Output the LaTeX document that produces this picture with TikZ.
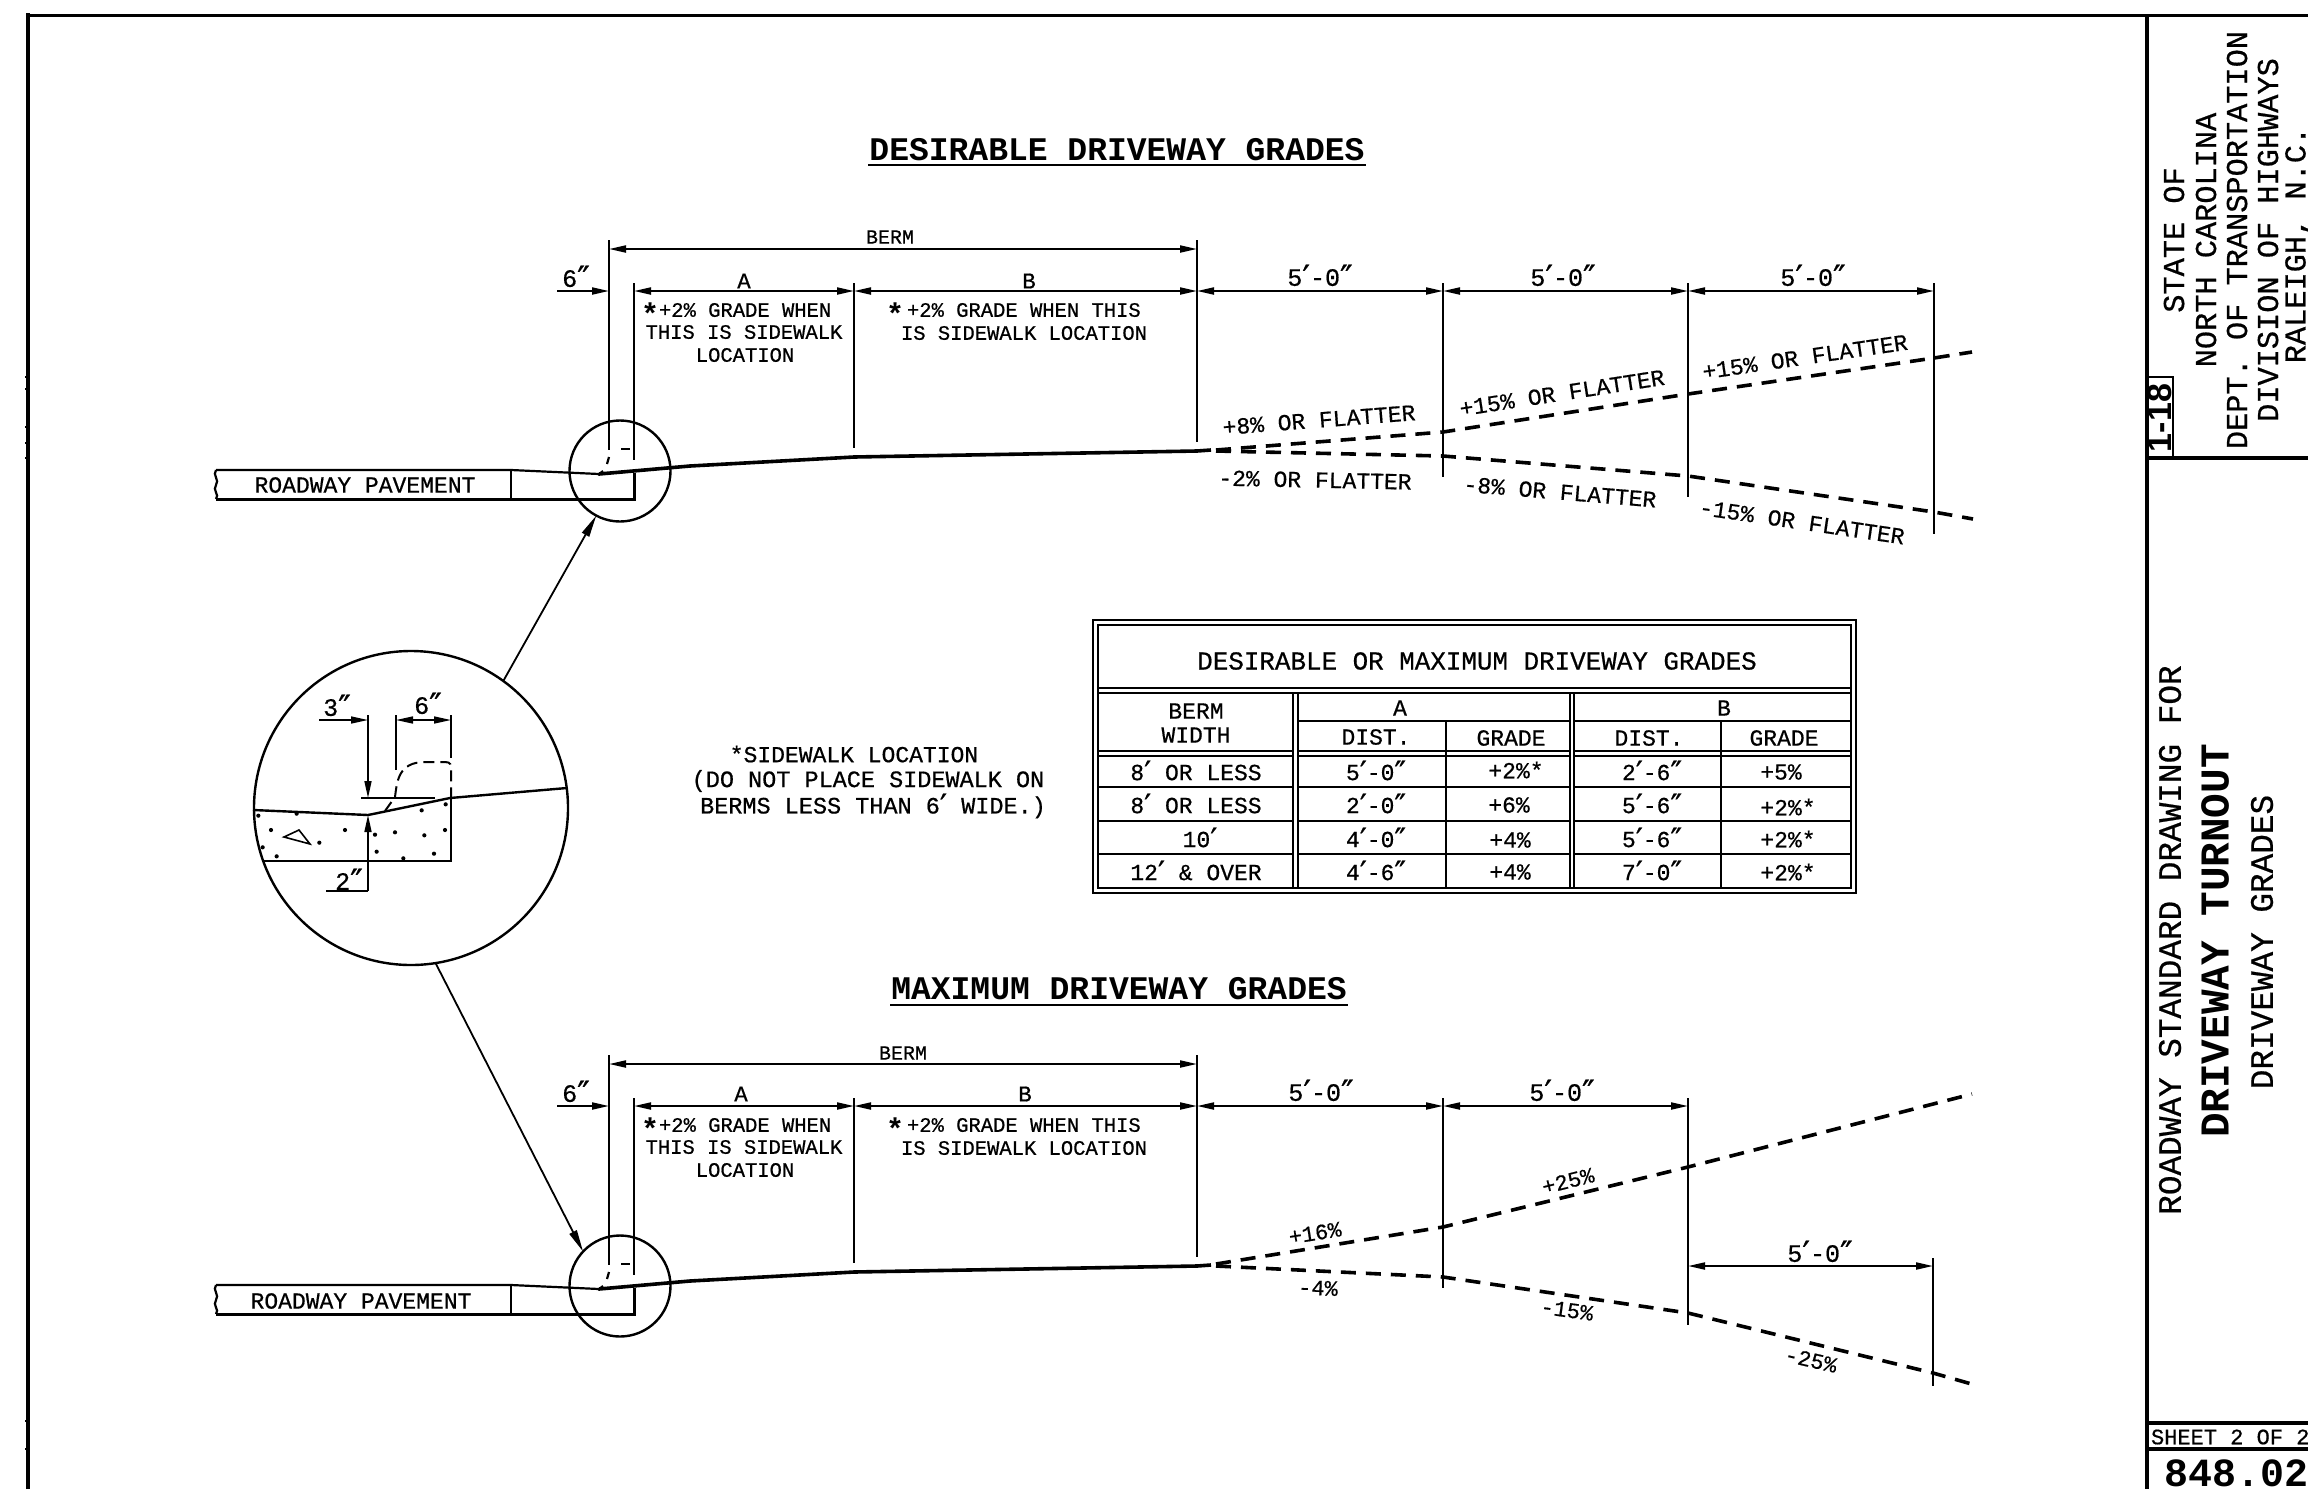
\documentclass[tikz,border=0pt]{standalone}
\usepackage{graphicx}
\usepackage{fontspec}
\setmainfont{Liberation Mono}[UprightFeatures={FakeBold=0.6}]
\newfontfamily\prf{DejaVu Sans}[FakeBold=0.6]
\newfontfamily\hvb{Liberation Sans}[BoldFont={Liberation Sans Bold}]
\usetikzlibrary{arrows.meta}
\newcommand\p{\raisebox{-.14em}{\scalebox{1.35}{\prf\symbol{"2032}}}}
\newcommand\pp{\raisebox{-.14em}{\scalebox{1.35}{\prf\symbol{"2033}}}}
\tikzset{
  txt/.style={inner sep=0pt,outer sep=0pt,font=\fontsize{#1}{#1}\selectfont},
  btxt/.style={inner sep=0pt,outer sep=0pt,font=\fontsize{#1}{#1}\selectfont\bfseries},
  thinln/.style={line width=1.5pt,draw=black},
  medln/.style={line width=2.2pt,draw=black},
  heavyln/.style={line width=3.6pt,draw=black},
  gradedash/.style={line width=3.6pt,draw=black,dash pattern=on 15pt off 10pt},
  dimarrow/.style={line width=2pt,{Triangle[length=17pt,width=7pt]}-{Triangle[length=17pt,width=7pt]}},
  endarrow/.style={line width=2pt,-{Triangle[length=17pt,width=7pt]}},
  leader/.style={line width=1.8pt,-{Triangle[length=22pt,width=8pt]}},
  zoomcircle/.style={circle,draw=black,line width=2.4pt,inner sep=0pt,outer sep=0pt}
}
% shared section: everything common to the two profiles, relative to the upper one
\newcommand\profile{%
  \draw[thinln] (609,240)--(609,450);
  \draw[thinln] (634,283)--(634,460);
  \draw[thinln] (854,283)--(854,448);
  \draw[thinln] (1197,240)--(1197,442);
  \draw[dimarrow] (609,249)--(1197,249);
  \draw[endarrow] (557,291)--(609,291);
  \draw[dimarrow] (634,291)--(854,291);
  \draw[dimarrow] (854,291)--(1197,291);
  \node[txt=25] at (576,278) {6\pp};
  % pavement
  \draw[medln] (216,470)--(511,470)--(599,474);
  \draw[heavyln,line join=round] (599,474)--(690,466)--(854,457)--(1197,451)--(1211,450);
  \draw[medln] (216,470) .. controls (212,475) and (220,480) .. (216,485) .. controls (212,490) and (220,495) .. (216,499);
  \draw[line width=3pt] (216,499)--(634,499)--(634,473);
  \draw[thinln] (511,470)--(511,499);
  % curb hints
  \draw[medln] (609,457)--(607,464);
  \draw[line width=2.4pt] (621,449)--(630,449);
  \draw[line width=2.4pt] (634,449)--(634,460);
  \draw[medln] (598,475)--(603,471);
  % notes
  \node[btxt=30] at (650,314) {*};
  \node[txt=20.5,anchor=west] at (659,310) {+2\% GRADE WHEN};
  \node[txt=20.5] at (744,332) {THIS IS SIDEWALK};
  \node[txt=20.5] at (745,355) {LOCATION};
  \node[btxt=30] at (895,314) {*};
  \node[txt=20.5,anchor=west] at (907,310) {+2\% GRADE WHEN THIS};
  \node[txt=20.5] at (1024,333) {IS SIDEWALK LOCATION};
}
\begin{document}
\begin{tikzpicture}[x=1pt,y=-1pt]
\useasboundingbox[fill=white] (0,0) rectangle (2308,1489);

% sheet frame
\draw[line width=4.5pt] (28,1489)--(28,13);
\draw[line width=3pt] (26,15)--(2308,15);
\foreach \ty in {377,389,427,443,458,1421,1449} \draw[line width=2pt] (25,\ty)--(27,\ty);
\draw[line width=4.5pt] (2147,15)--(2147,1489);
\draw[line width=4pt] (2147,458)--(2308,458);
\draw[line width=4pt] (2147,1423)--(2308,1423);
\draw[line width=4pt] (2147,1449)--(2308,1449);
\draw[line width=2pt] (2147,377)--(2173,377)--(2173,458);

% title block
\node[btxt=34,rotate=90,font=\hvb\bfseries\fontsize{34}{34}\selectfont] (sheetref) at (2160,418) {1-18};
\node[txt=30.3,rotate=90] (st1) at (2174,240) {STATE OF};
\node[txt=30.3,rotate=90] (st2) at (2206,240) {NORTH CAROLINA};
\node[txt=30.3,rotate=90] (st3) at (2237,240) {DEPT. OF TRANSPORTATION};
\node[txt=30.3,rotate=90] (st4) at (2268,240) {DIVISION OF HIGHWAYS};
\node[txt=30.3,rotate=90] (st5) at (2298,245) {RALEIGH, N.C.};
\node[txt=32.7,rotate=90] (tb1) at (2170,940) {ROADWAY STANDARD DRAWING FOR};
\node[btxt=41,rotate=90] (tb2) at (2215,941) {DRIVEWAY TURNOUT};
\node[txt=32.7,rotate=90] (tb3) at (2262,942) {DRIVEWAY GRADES};
\node[txt=22,anchor=west] (sheet) at (2151,1437) {SHEET 2 OF 2};
\node[btxt=40,anchor=west] (num) at (2164,1473) {848.02};

% headings
\node[btxt=33] (h1) at (1117,150) {DESIRABLE DRIVEWAY GRADES};
\draw[line width=2.6pt] (868,165)--(1366,165);
\node[btxt=33] (h2) at (1119,989) {MAXIMUM DRIVEWAY GRADES};
\draw[line width=2.6pt] (890,1005)--(1348,1005);

% upper profile
\profile
\node[txt=20] at (890,237) {BERM};
\node[txt=22.5] at (744,281) {A};
\node[txt=22.5] at (1029,281) {B};
\node[txt=23] at (365,485) {ROADWAY PAVEMENT};
\node[zoomcircle,minimum size=101pt] (small1) at (620,471) {};

\draw[thinln] (1443,283)--(1443,477);
\draw[thinln] (1688,283)--(1688,497);
\draw[thinln] (1934,283)--(1934,534);
\draw[dimarrow] (1197,291)--(1443,291);
\draw[dimarrow] (1443,291)--(1688,291);
\draw[dimarrow] (1688,291)--(1934,291);
\node[txt=25] at (1320,277) {5\p-0\pp};
\node[txt=25] at (1563,277) {5\p-0\pp};
\node[txt=25] at (1813,277) {5\p-0\pp};
\draw[gradedash] (1216,450)--(1443,432)--(1688,394)--(1934,358)--(1972,352);
\draw[gradedash] (1216,451)--(1443,456)--(1688,476)--(1934,512)--(1973,519);
\node[txt=23,rotate=4.4] at (1319,420) {+8\% OR FLATTER};
\node[txt=23,rotate=-1.2] at (1315,480) {-2\% OR FLATTER};
\node[txt=23,rotate=8.8] at (1562,393) {+15\% OR FLATTER};
\node[txt=23,rotate=8.3] at (1805,357) {+15\% OR FLATTER};
\node[txt=23,rotate=-4.7] at (1560,492) {-8\% OR FLATTER};
\node[txt=23,rotate=-8.3] at (1802,522) {-15\% OR FLATTER};

% lower profile
\begin{scope}[shift={(0,815)}]
\profile
\end{scope}
\node[txt=20] at (903,1053) {BERM};
\node[txt=22.5] at (741,1094) {A};
\node[txt=22.5] at (1025,1094) {B};
\node[txt=23] at (361,1301) {ROADWAY PAVEMENT};
\node[zoomcircle,minimum size=101pt] (small2) at (620,1286) {};

\draw[thinln] (1443,1098)--(1443,1288);
\draw[thinln] (1688,1098)--(1688,1325);
\draw[thinln] (1933,1258)--(1933,1386);
\draw[dimarrow] (1197,1106)--(1443,1106);
\draw[dimarrow] (1443,1106)--(1688,1106);
\draw[dimarrow] (1688,1266)--(1933,1266);
\node[txt=25] at (1321,1092) {5\p-0\pp};
\node[txt=25] at (1562,1092) {5\p-0\pp};
\node[txt=25] at (1820,1253) {5\p-0\pp};
\draw[gradedash] (1216,1264)--(1443,1227)--(1688,1167)--(1972,1094);
\draw[gradedash] (1216,1266)--(1443,1277)--(1688,1313)--(1933,1373)--(1975,1385);
\node[txt=22,rotate=9] at (1315,1233) {+16\%};
\node[txt=22,rotate=14] at (1568,1181) {+25\%};
\node[txt=22,rotate=-2] at (1318,1288) {-4\%};
\node[txt=22,rotate=-8] at (1567,1310) {-15\%};
\node[txt=22,rotate=-13] at (1811,1360) {-25\%};

% detail circle
\node[zoomcircle,minimum size=314pt] (big) at (411,808) {};
\draw[leader] (big.54)--(small1.242);
\draw[leader] (big.-81.6)--(small2.137);
\draw[line width=2.4pt,line join=round] (253,810)--(368,815)--(373,814)--(450,798)--(567,788);
\draw[line width=2.4pt,line join=miter] (263,861)--(451,861)--(451,798);
\draw[line width=2pt,dash pattern=on 11pt off 6pt] (385,811)--(395,797) .. controls (397,782) and (398,762) .. (425,762) -- (445,762) .. controls (451,762) and (451,765) .. (451,770) -- (451,797);
\draw[thinln] (361,798)--(435,798);
\draw[thinln] (396,715)--(396,770);
\draw[thinln] (451,715)--(451,758);
\draw[thinln] (368,715)--(368,760);
\draw[endarrow,line width=1.6pt] (319,720)--(368,720);
\draw[endarrow,line width=1.6pt] (368,720)--(368,798);
\draw[endarrow,line width=1.6pt] (368,891)--(368,815);
\draw[line width=1.6pt] (326,891)--(368,891);
\draw[dimarrow,line width=1.6pt] (396,720)--(451,720);
\node[txt=25] at (337,707) {3\pp};
\node[txt=25] at (428,705) {6\pp};
\node[txt=25] at (349,881) {2\pp};
\foreach \zx/\zy in {55/497,170/491,93/540,315/540,68/592,110/619,238/578,405/554,465/547,545/481,617/463,615/540,553/556,410/605,582/611,490/625}
  \fill ({240+\zx/3},{650+\zy/3}) circle (2.1);
\draw[line width=1.6pt,line join=miter] (284,837)--(299,830)--(310,844)--cycle;

% sidewalk note
\node[txt=23] at (854,754) {*SIDEWALK LOCATION};
\node[txt=23.5] at (868,781) {(DO NOT PLACE SIDEWALK ON};
\node[txt=23.5] at (873,806) {BERMS LESS THAN 6\p{} WIDE.)};

% table
\draw[line width=2pt] (1093,620) rectangle (1856,893);
\draw[line width=2pt] (1098,625) rectangle (1851,888);
\draw[line width=2pt] (1098,688)--(1851,688);
\draw[line width=2pt] (1098,693)--(1851,693);
\draw[line width=2pt] (1293,693)--(1293,888);
\draw[line width=2pt] (1298,693)--(1298,888);
\draw[line width=2pt] (1570,693)--(1570,888);
\draw[line width=2pt] (1574,693)--(1574,888);
\draw[line width=2pt] (1446,721)--(1446,888);
\draw[line width=2pt] (1721,721)--(1721,888);
\draw[line width=2pt] (1298,721)--(1570,721);
\draw[line width=2pt] (1574,721)--(1851,721);
\foreach \ty in {751,756,787,821,854} {
  \draw[line width=2pt] (1098,\ty)--(1293,\ty);
  \draw[line width=2pt] (1298,\ty)--(1570,\ty);
  \draw[line width=2pt] (1574,\ty)--(1851,\ty);
}
\node[txt=25.9] at (1477,661) {DESIRABLE OR MAXIMUM DRIVEWAY GRADES};
\node[txt=23] at (1196,711) {BERM};
\node[txt=23] at (1196,735) {WIDTH};
\node[txt=23] at (1400,708) {A};
\node[txt=23] at (1724,708) {B};
\node[txt=23] at (1376,737) {DIST.};
\node[txt=23] at (1511,738) {GRADE};
\node[txt=23] at (1649,738) {DIST.};
\node[txt=23] at (1784,738) {GRADE};
\node[txt=23] at (1196,772) {8\p{} OR LESS};
\node[txt=23] at (1196,805) {8\p{} OR LESS};
\node[txt=23] at (1200,839) {10\p};
\node[txt=23] at (1196,872) {12\p{} \& OVER};
\node[txt=23] at (1376,772) {5\p-0\pp};
\node[txt=23] at (1376,805) {2\p-0\pp};
\node[txt=23] at (1376,839) {4\p-0\pp};
\node[txt=23] at (1376,872) {4\p-6\pp};
\node[txt=23] at (1516,770) {+2\%*};
\node[txt=23] at (1509,805) {+6\%};
\node[txt=23] at (1510,840) {+4\%};
\node[txt=23] at (1510,872) {+4\%};
\node[txt=23] at (1652,772) {2\p-6\pp};
\node[txt=23] at (1652,805) {5\p-6\pp};
\node[txt=23] at (1652,839) {5\p-6\pp};
\node[txt=23] at (1652,872) {7\p-0\pp};
\node[txt=23] at (1781,772) {+5\%};
\node[txt=23] at (1788,807) {+2\%*};
\node[txt=23] at (1788,839) {+2\%*};
\node[txt=23] at (1788,872) {+2\%*};
\end{tikzpicture}
\end{document}
